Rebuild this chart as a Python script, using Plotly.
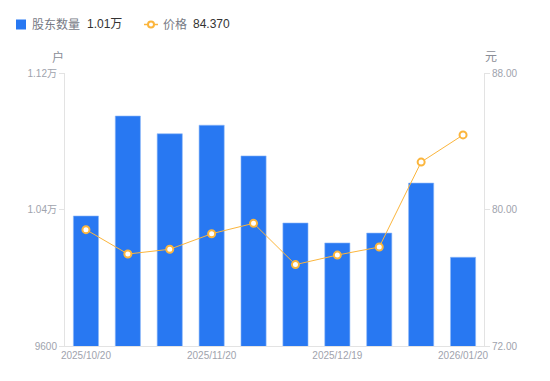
import plotly.graph_objects as go

dates = ["2025/10/20", "2025/10/31", "2025/11/10", "2025/11/20", "2025/11/28",
         "2025/12/10", "2025/12/19", "2025/12/31", "2026/01/09", "2026/01/20"]
holders = [10362, 10948, 10844, 10894, 10714, 10321, 10204, 10262, 10555, 10120]
prices = [78.82, 77.39, 77.67, 78.58, 79.19, 76.77, 77.33, 77.80, 82.78, 84.37]

x_tick_labels = ["2025/10/20", "2025/11/20", "2025/12/19", "2026/01/20"]
left_tickvals = [9600, 10400, 11200]
left_ticktext = ["9600", "1.04万", "1.12万"]
right_tickvals = [72, 80, 88]
right_ticktext = ["72.00", "80.00", "88.00"]

W, H = 550, 381
ML, MR, MT, MB = 65, 66, 73, 35
PW, PH = W - ML - MR, H - MT - MB

FONT = "Liberation Sans, Arial, Noto Sans CJK SC, sans-serif"
BLUE = "#2878f2"
ORANGE = "#fbb53c"
TICK = "#a0a3ad"


def px(x):
    return (x - ML) / PW


def py(y):
    return (H - MB - y) / PH


fig = go.Figure()
fig.add_trace(go.Bar(
    x=dates, y=holders, width=0.6, name="股东数量",
    marker=dict(color=BLUE, line=dict(color="#8fb8f8", width=0.6)),
    yaxis="y",
))
fig.add_trace(go.Scatter(
    x=dates, y=prices, mode="lines+markers", name="价格",
    line=dict(color=ORANGE, width=1),
    marker=dict(symbol="circle", size=7, color="#ffffff",
                line=dict(color=ORANGE, width=2)),
    yaxis="y2",
))

axis_common = dict(
    showgrid=False, zeroline=False, showline=True, linecolor="#e3e3e3",
    linewidth=1, tickfont=dict(color=TICK, size=10, family=FONT),
)

ann = []
ann.append(dict(text="股东数量", x=px(30), y=py(24.5), xanchor="left", yanchor="middle",
                font=dict(size=12, color="#777a85", family=FONT)))
ann.append(dict(text="1.01万", x=px(85), y=py(24.5), xanchor="left", yanchor="middle",
                font=dict(size=12, color="#333333", family=FONT)))
ann.append(dict(text="价格", x=px(161), y=py(24.5), xanchor="left", yanchor="middle",
                font=dict(size=12, color="#777a85", family=FONT)))
ann.append(dict(text="84.370", x=px(191), y=py(24.5), xanchor="left", yanchor="middle",
                font=dict(size=12, color="#333333", family=FONT)))
ann.append(dict(text="户", x=px(58), y=py(57), xanchor="center", yanchor="middle",
                font=dict(size=12, color="#8a8d96", family=FONT)))
ann.append(dict(text="元", x=px(491), y=py(57), xanchor="center", yanchor="middle",
                font=dict(size=12, color="#8a8d96", family=FONT)))
for a in ann:
    a.update(xref="paper", yref="paper", showarrow=False)

shapes = [
    dict(type="rect", xref="paper", yref="paper", x0=px(16), x1=px(26), y0=py(29.5), y1=py(19.5),
         fillcolor=BLUE, line=dict(width=0)),
    dict(type="line", xref="paper", yref="paper", x0=px(144), x1=px(158), y0=py(24.5), y1=py(24.5),
         line=dict(color=ORANGE, width=1.5)),
    dict(type="circle", xref="paper", yref="paper", x0=px(148), x1=px(154), y0=py(27.5), y1=py(21.5),
         fillcolor="white", line=dict(color=ORANGE, width=2)),
]

fig.update_layout(
    width=W, height=H,
    margin=dict(l=ML, r=MR, t=MT, b=MB),
    plot_bgcolor="white", paper_bgcolor="white",
    font=dict(family=FONT),
    showlegend=False,
    xaxis=dict(**axis_common, type="category", range=[-0.5, 9.5],
               tickmode="array", tickvals=x_tick_labels, ticktext=x_tick_labels,
               ticks="", ticklen=0),
    yaxis=dict(**axis_common, range=[9600, 11200], tickmode="array",
               tickvals=left_tickvals, ticktext=left_ticktext,
               ticks="outside", ticklen=5, tickcolor="#e3e3e3"),
    yaxis2=dict(**axis_common, range=[72, 88], overlaying="y", side="right",
                tickmode="array", tickvals=right_tickvals, ticktext=right_ticktext,
                ticks="outside", ticklen=5, tickcolor="#e3e3e3"),
    annotations=ann,
    shapes=shapes,
)

fig.write_html("out.html", config={"displayModeBar": False},
               post_script="document.body.style.margin='0';document.body.style.padding='0';")
